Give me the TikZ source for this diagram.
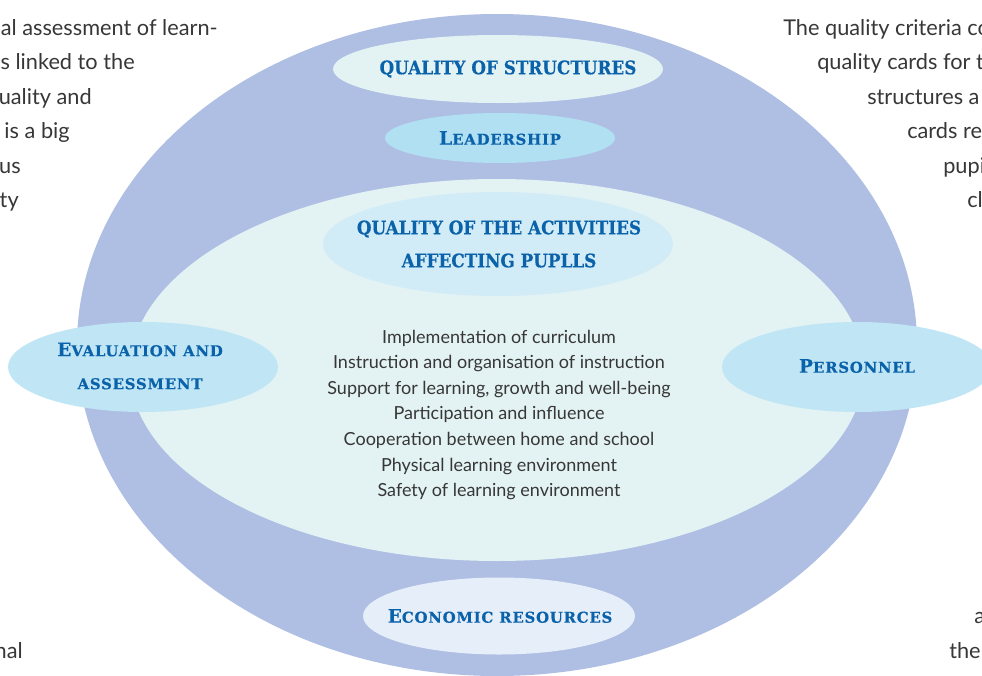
\documentclass[tikz,border=0pt]{standalone}
\usepackage{fontspec}
\setmainfont{Lato}
\newfontfamily\headfont[FakeStretch=0.9, FakeBold=0.4]{DejaVu Serif}
\newfontfamily\capsfont[LetterSpace=5, FakeBold=0.4]{DejaVu Serif}
\usetikzlibrary{shapes.geometric}

\definecolor{ringblue}{RGB}{174,191,227}
\definecolor{innercyan}{RGB}{227,242,243}
\definecolor{leadblue}{RGB}{178,224,243}
\definecolor{actblue}{RGB}{210,236,247}
\definecolor{sideblue}{RGB}{192,230,246}
\definecolor{econblue}{RGB}{230,238,249}
\definecolor{headblue}{RGB}{10,98,170}
\definecolor{bodygray}{RGB}{55,55,55}

% small caps made by hand: first letter big, rest smaller and spaced
\newcommand\smcp[2]{{\capsfont\bfseries\fontsize{14}{24.75}\selectfont#1\fontsize{11.2}{24.75}\selectfont#2}}

\tikzset{
    blob/.style={ellipse, inner sep=0pt},
    heading/.style={font=\headfont\bfseries\fontsize{14}{24.75}\selectfont, text=headblue, align=center, inner sep=0pt},
    listtext/.style={font=\fontsize{13.5}{19.2}\selectfont, text=bodygray, align=center, inner sep=0pt},
    margintext/.style={font=\fontsize{16.3}{18}\selectfont, text=bodygray, inner sep=0pt},
}

\begin{document}
\begin{tikzpicture}[x=0.75pt, y=-0.75pt]
        \useasboundingbox (0,0) rectangle (982,675);
        \clip (0,0) rectangle (982,675);

        % --- the two big rings ---
        \node[blob, fill=ringblue, minimum width=630pt, minimum height=496.5pt] (ring) at (497,345) {};
        \node[blob, fill=innercyan, minimum width=550.5pt, minimum height=286.5pt] (core) at (497,370) {};

        % --- ellipses ---
        \node[blob, fill=innercyan, minimum width=247.5pt, minimum height=51pt] (structures) at (498,69) {};
        \node[blob, fill=leadblue, minimum width=172.5pt, minimum height=37.5pt] (leadership) at (500,138) {};
        \node[blob, fill=actblue, minimum width=262.5pt, minimum height=78pt] (activities) at (498,244) {};
        \node[blob, fill=sideblue, minimum width=202.5pt, minimum height=67.5pt] (evaluation) at (143,367) {};
        \node[blob, fill=sideblue, minimum width=202.5pt, minimum height=67.5pt] (personnel) at (857,367) {};
        \node[blob, fill=econblue, minimum width=204pt, minimum height=57.75pt] (economic) at (499,616) {};

        % --- headings ---
        \node[heading] (structures-label) at (508,69) {QUALITY OF STRUCTURES};
        \node[heading] (leadership-label) at (500,138) {\smcp{L}{EADERSHIP}};
        \node[heading] (activities-label) at (499,244) {QUALITY OF THE ACTIVITIES\\AFFECTING PUPLLS};
        \node[heading] (evaluation-label) at (140,366) {\smcp{E}{VALUATION AND}\\\smcp{}{ASSESSMENT}};
        \node[heading] (personnel-label) at (857,366) {\smcp{P}{ERSONNEL}};
        \node[heading] (economic-label) at (500,616) {\smcp{E}{CONOMIC RESOURCES}};

        % --- criteria list ---
        \node[listtext] (criteria) at (499,415) {Implementation of curriculum\\
            Instruction and organisation of instruction\\
            Support for learning, growth and well-being\\
            Participation and influence\\
            Cooperation between home and school\\
            Physical learning environment\\
            Safety of learning environment};

        % --- running text round the figure ---
        \foreach \xend/\ybase/\txt in {218/35/al assessment of learn-, 135/69/s linked to the, 92/104/uality and, 70/138/is a big, 21/173/us, 19/207/ty, 23/658/nal}
            \node[margintext, anchor=base east] (left-\ybase) at (\xend,\ybase) {\txt};
        \foreach \xstart/\ybase/\txt in {783/35/The quality criteria co, 817/69/quality cards for th, 867/104/structures a, 907/138/cards re, 943/173/pupil, 967/207/cl, 974/623/a, 949/658/the}
            \node[margintext, anchor=base west] (right-\ybase) at (\xstart,\ybase) {\txt};

    \end{tikzpicture}
\end{document}
